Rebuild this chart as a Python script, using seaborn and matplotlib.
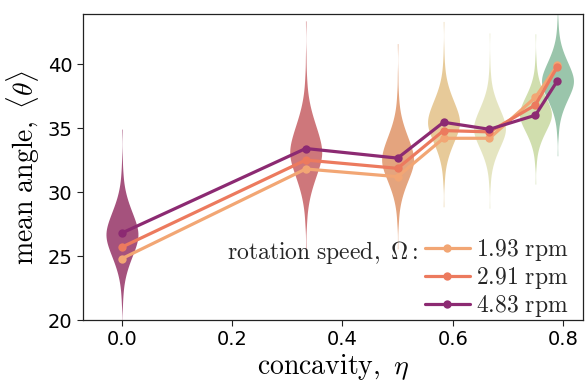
import numpy as np
import pandas as pd
import matplotlib
matplotlib.use("Agg")
import matplotlib.pyplot as plt
import seaborn as sns
from statistics import NormalDist

# ---- data ----
eta = [0.0, 1/3, 0.5, 7/12, 2/3, 0.75, 0.79]
theta_193 = [24.8, 31.8, 31.2, 34.2, 34.2, 37.4, 39.9]
theta_291 = [25.7, 32.5, 31.85, 34.8, 34.7, 36.8, 39.8]
theta_483 = [26.8, 33.4, 32.65, 35.45, 34.9, 36.0, 38.7]
speeds = ["1.93 rpm", "2.91 rpm", "4.83 rpm"]

# violin summaries per concavity: mode, core spread, tail spread (low / high)
viol_mode = [26.7, 33.2, 32.6, 35.5, 35.0, 36.1, 38.7]
viol_core = [1.8, 2.1, 1.8, 1.7, 1.6, 1.45, 1.55]
viol_tail_lo = [2.0, 2.0, 1.8, 1.7, 1.6, 1.4, 1.5]
viol_tail_hi = [2.1, 2.6, 2.3, 2.0, 1.9, 1.6, 1.7]
viol_colors = ["#9b3f6f", "#c9686d", "#e19a70", "#e5c58e", "#e3e3bb", "#cbdba5", "#8fbfa2"]
line_colors = ["#f2a674", "#ec7a5e", "#8c2a72"]

# ---- build tables ----
Nc, Nt = 150, 50
pc = (np.arange(Nc) + 0.5) / Nc
pt = (np.arange(Nt) + 0.5) / Nt
z = np.array([NormalDist().inv_cdf(q) for q in pc])
rows = []
for x, m, s, lo, hi in zip(eta, viol_mode, viol_core, viol_tail_lo, viol_tail_hi):
    core = m + s * z
    tail = np.where(pt < 0.5, m + lo * np.log(2 * pt), m - hi * np.log(2 * (1 - pt)))
    rows.append(pd.DataFrame({"eta": x, "theta": np.concatenate([core, tail])}))
vdf = pd.concat(rows, ignore_index=True)

ldf = pd.concat([
    pd.DataFrame({"eta": eta, "theta": t, "speed": s})
    for t, s in zip([theta_193, theta_291, theta_483], speeds)
], ignore_index=True)

# ---- plot ----
sns.set_style("ticks")
plt.rcParams["mathtext.fontset"] = "cm"

fig = plt.figure(figsize=(5.86, 3.81), dpi=100)
ax = fig.add_axes([0.1416, 0.16, 0.853, 0.803])

sns.violinplot(data=vdf, x="eta", y="theta", hue="eta", palette=viol_colors,
               native_scale=True, dodge=False, width=1.45, inner=None,
               linewidth=0, saturation=1, density_norm="width", cut=0,
               bw_adjust=0.8, legend=False, ax=ax)
for c in ax.collections:
    c.set_alpha(0.9)

sns.lineplot(data=ldf, x="eta", y="theta", hue="speed", palette=line_colors,
             marker="o", markersize=6, markeredgewidth=0, linewidth=2.3,
             ax=ax)

ax.set_xlim(-0.0707, 0.836)
ax.set_ylim(20, 43.9)
ax.set_xticks([0.0, 0.2, 0.4, 0.6, 0.8])
ax.set_yticks([20, 25, 30, 35, 40])
ax.tick_params(labelsize=14, length=4, width=0.8, colors="#222222", labelcolor="black")
for s in ax.spines.values():
    s.set_visible(True)
    s.set_linewidth(0.9)
    s.set_color("#222222")

ax.set_xlabel(r"$\mathrm{concavity,}\ \eta$", fontsize=20, labelpad=2, color="black")
ax.set_ylabel(r"$\mathrm{mean\ angle,}\ \langle\theta\rangle$", fontsize=20, labelpad=4,
              color="black")

handles, labels = ax.get_legend_handles_labels()
leg = ax.legend(handles, [r"$\mathrm{%s}$" % l.replace(" ", r"\ ") for l in labels],
                loc="lower right", bbox_to_anchor=(0.975, -0.005), frameon=False,
                fontsize=17, handlelength=1.9, handletextpad=0.25,
                labelspacing=0.08, borderaxespad=0.0, borderpad=0.1)
ax.text(0.671, 0.222, r"$\mathrm{rotation\ speed,}\ \Omega\mathrm{:}$",
        transform=ax.transAxes, ha="right", va="center", fontsize=17)

fig.savefig("out.png", dpi=100)
